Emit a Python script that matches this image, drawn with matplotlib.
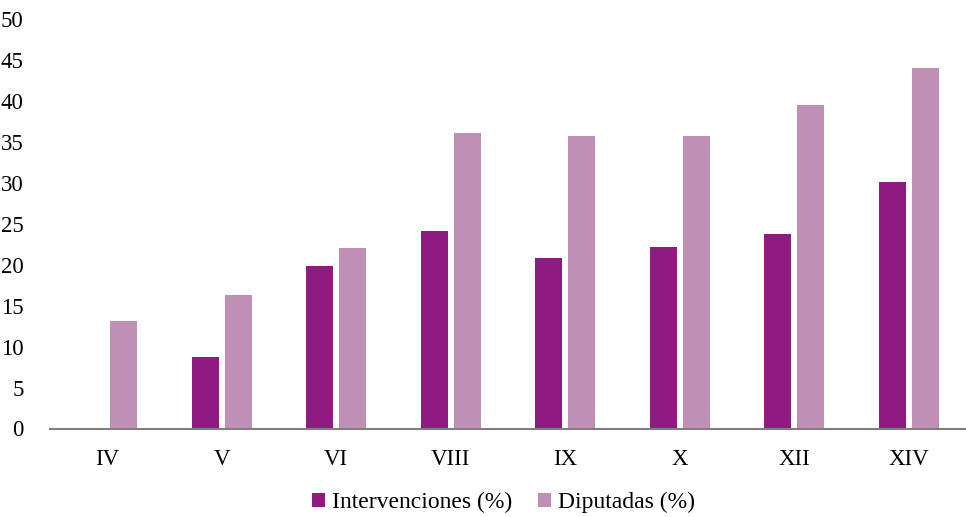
import numpy as np
import matplotlib
matplotlib.use("Agg")
import matplotlib.pyplot as plt

# Datos
legislaturas = ["IV", "V", "VI", "VIII", "IX", "X", "XII", "XIV"]
intervenciones = [0, 8.7, 19.8, 24.1, 20.8, 22.2, 23.8, 30.1]
diputadas = [13.1, 16.3, 22.0, 36.1, 35.7, 35.7, 39.5, 44.0]

plt.rcParams['font.family'] = ['Liberation Serif', 'DejaVu Serif']

fig = plt.figure(figsize=(9.66, 5.17), dpi=100)
ax = fig.add_axes([50 / 966, 1 - 428.5 / 517, 916 / 966, (428.5 - 19) / 517])

x = np.arange(len(legislaturas))
ancho = 0.235
sep = 0.29
ax.bar(x - sep / 2, intervenciones, ancho, color='#8E1B80', label='Intervenciones (%)')
ax.bar(x + sep / 2, diputadas, ancho, color='#BF8FB5', label='Diputadas (%)')

ax.set_xlim(-0.5, len(legislaturas) - 0.5)
ax.set_ylim(0, 50)
ax.set_yticks(range(0, 51, 5))
ax.set_xticks(x)
ax.set_xticklabels(legislaturas)
ax.tick_params(axis='both', length=0, labelsize=16.5)
ax.tick_params(axis='y', pad=19)
ax.tick_params(axis='x', pad=15)

for lado in ['top', 'right', 'left']:
    ax.spines[lado].set_visible(False)
ax.spines['bottom'].set_color('#7f7f7f')
ax.spines['bottom'].set_linewidth(1.5)

ax.legend(loc='upper center', bbox_to_anchor=(0.495, -0.115), ncol=2, frameon=False,
          fontsize=17, borderpad=0.2, handlelength=0.55, handleheight=0.55,
          handletextpad=0.3, columnspacing=1.1)

fig.savefig('out.png', dpi=100)
